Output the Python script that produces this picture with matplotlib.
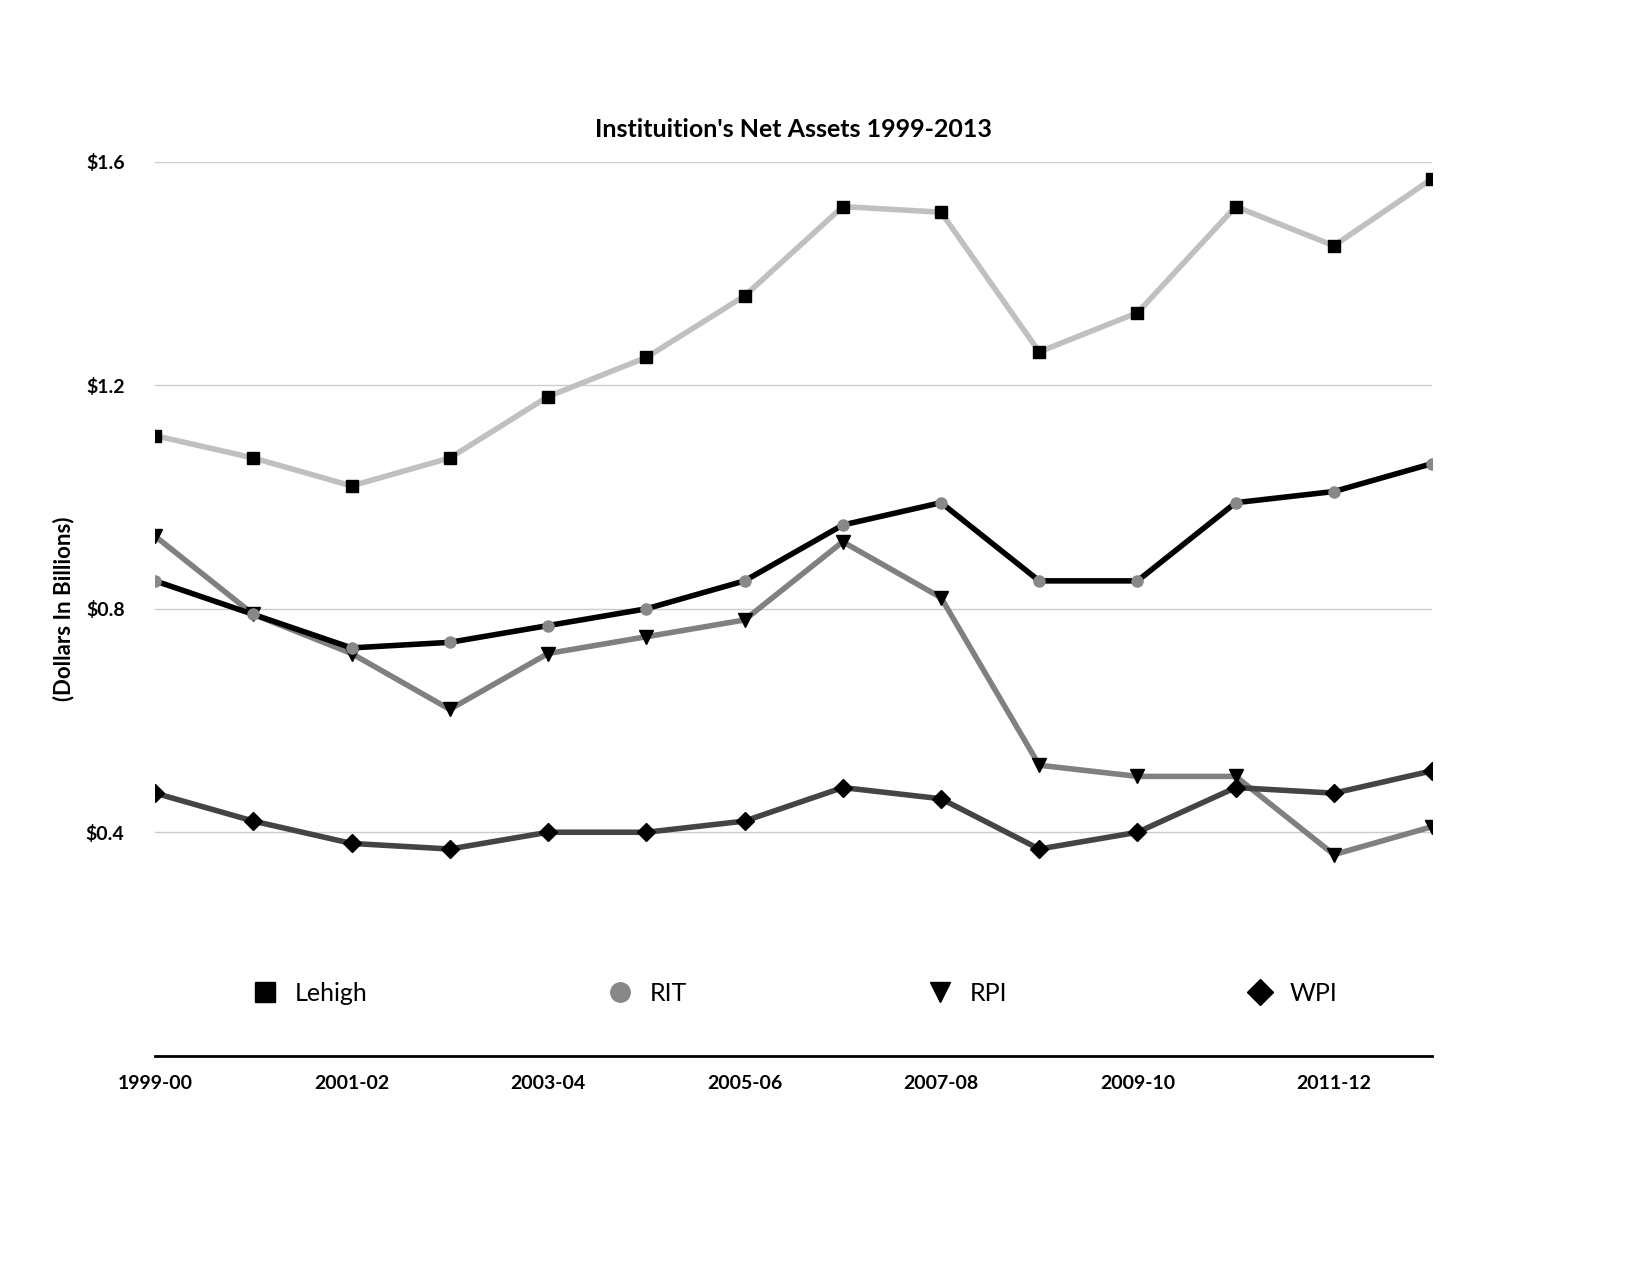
import matplotlib.pyplot as plt
from matplotlib.lines import Line2D

plt.rcParams["font.family"] = ["Lato", "DejaVu Sans"]

years = ["1999-00", "2000-01", "2001-02", "2002-03", "2003-04", "2004-05", "2005-06",
         "2006-07", "2007-08", "2008-09", "2009-10", "2010-11", "2011-12", "2012-13"]
lehigh = [1.11, 1.07, 1.02, 1.07, 1.18, 1.25, 1.36, 1.52, 1.51, 1.26, 1.33, 1.52, 1.45, 1.57]
rit = [0.85, 0.79, 0.73, 0.74, 0.77, 0.80, 0.85, 0.95, 0.99, 0.85, 0.85, 0.99, 1.01, 1.06]
rpi = [0.93, 0.79, 0.72, 0.62, 0.72, 0.75, 0.78, 0.92, 0.82, 0.52, 0.50, 0.50, 0.36, 0.41]
wpi = [0.47, 0.42, 0.38, 0.37, 0.40, 0.40, 0.42, 0.48, 0.46, 0.37, 0.40, 0.48, 0.47, 0.51]

fig = plt.figure(figsize=(16.5, 12.75), dpi=100)
ax = fig.add_axes([0.094, 0.172, 0.774, 0.701])
x = range(len(years))

ax.plot(x, lehigh, color="#c0c0c0", lw=4, marker="s", ms=8, mfc="black", mec="black", zorder=3)
ax.plot(x, rit, color="black", lw=4, marker="o", ms=8, mfc="#888888", mec="#888888", zorder=4)
ax.plot(x, rpi, color="#808080", lw=4, marker="v", ms=10, mfc="black", mec="black", zorder=3)
ax.plot(x, wpi, color="#444444", lw=4, marker="D", ms=9, mfc="black", mec="black", zorder=3)

ax.set_xlim(0, 13)
ax.set_ylim(0, 1.6)
ax.set_yticks([0.4, 0.8, 1.2, 1.6])
ax.set_yticklabels(["$0.4", "$0.8", "$1.2", "$1.6"], fontsize=14, fontweight="bold")
ax.set_xticks(range(0, 14, 2))
ax.set_xticklabels(years[::2], fontsize=14, fontweight="bold")
ax.tick_params(length=0, pad=14)
ax.tick_params(axis="y", pad=22)
ax.grid(axis="y", color="#cccccc", lw=1)
for s in ["top", "right", "left"]:
    ax.spines[s].set_visible(False)
ax.spines["bottom"].set_linewidth(2)
ax.set_ylabel("(Dollars In Billions)", fontsize=16, fontweight="bold", labelpad=8)
ax.set_title("Instituition's Net Assets 1999-2013", fontsize=18, fontweight="bold", pad=18)

handles = [
    Line2D([], [], color="white", marker="s", ms=14, mfc="black", mec="black", label="Lehigh"),
    Line2D([], [], color="white", marker="o", ms=14, mfc="#888888", mec="#888888", label="RIT"),
    Line2D([], [], color="white", marker="v", ms=14, mfc="black", mec="black", label="RPI"),
    Line2D([], [], color="white", marker="D", ms=13, mfc="black", mec="black", label="WPI"),
]
ax.legend(handles=handles, loc="center", bbox_to_anchor=(0.5, 0.07), ncol=4, frameon=False,
          fontsize=18, columnspacing=9.5, handletextpad=0.6, handlelength=1.2)

fig.savefig("out.png", dpi=100)
